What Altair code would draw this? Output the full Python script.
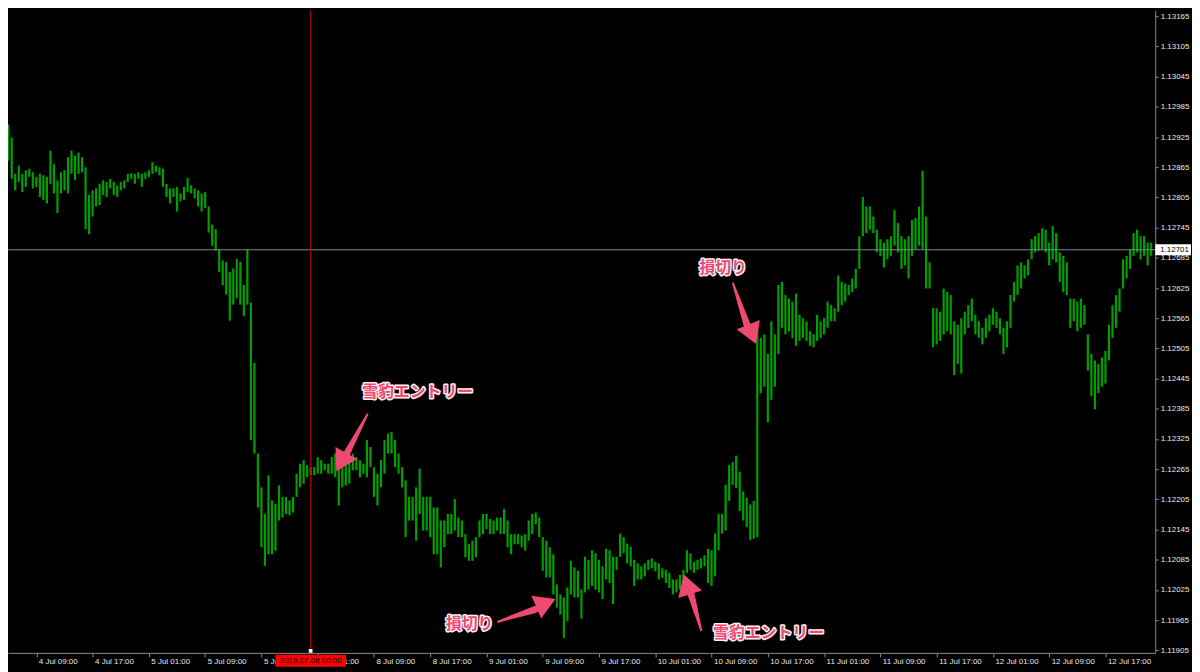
import json
import altair as alt
import pandas as pd

# ---------------- data (EURUSD, 30-minute bars) ----------------
high = [
    1.12950, 1.12924, 1.12852, 1.12868, 1.12852, 1.12859, 1.12862, 1.12855, 1.12846, 1.12852,
    1.12849, 1.12846, 1.12898, 1.12872, 1.12839, 1.12855, 1.12859, 1.12885, 1.12898, 1.12888,
    1.12894, 1.12885, 1.12865, 1.12810, 1.12819, 1.12823, 1.12832, 1.12839, 1.12836, 1.12842,
    1.12836, 1.12829, 1.12836, 1.12839, 1.12852, 1.12853, 1.12852, 1.12855, 1.12852, 1.12855,
    1.12859, 1.12875, 1.12868, 1.12865, 1.12862, 1.12832, 1.12823, 1.12823, 1.12826, 1.12813,
    1.12826, 1.12844, 1.12829, 1.12823, 1.12819, 1.12813, 1.12816, 1.12787, 1.12751, 1.12742,
    1.12702, 1.12680, 1.12677, 1.12657, 1.12664, 1.12683, 1.12677, 1.12631, 1.12702,
    1.12596, 1.12476, 1.12296, 1.12229, 1.12176, 1.12253, 1.12203, 1.12196, 1.12233, 1.12210,
    1.12210, 1.12203, 1.12210, 1.12256, 1.12276, 1.12283, 1.12273, 1.12269, 1.12269, 1.12289,
    1.12283, 1.12276, 1.12276, 1.12289, 1.12296, 1.12269, 1.12269, 1.12276, 1.12283, 1.12296,
    1.12289, 1.12283, 1.12276, 1.12323, 1.12309, 1.12269, 1.12256, 1.12283, 1.12323, 1.12336,
    1.12339, 1.12323, 1.12296, 1.12269, 1.12243, 1.12210, 1.12210, 1.12229, 1.12266, 1.12210,
    1.12210, 1.12210, 1.12189, 1.12189, 1.12163, 1.12163, 1.12176, 1.12176, 1.12206, 1.12169,
    1.12163, 1.12136, 1.12116, 1.12123, 1.12130, 1.12163, 1.12176, 1.12176, 1.12166, 1.12163,
    1.12169, 1.12169, 1.12186, 1.12163, 1.12136, 1.12136, 1.12136, 1.12133, 1.12136, 1.12163,
    1.12176, 1.12179, 1.12169, 1.12130, 1.12123, 1.12110, 1.12096, 1.12036, 1.12016, 1.12010,
    1.12030, 1.12083, 1.12070, 1.12063,
    1.12026, 1.12091, 1.12085, 1.12104, 1.12098, 1.12085, 1.12072, 1.12107, 1.12104, 1.12091,
    1.12091, 1.12137, 1.12130, 1.12117, 1.12111, 1.12085, 1.12078, 1.12072, 1.12078, 1.12085,
    1.12088, 1.12081, 1.12078, 1.12068, 1.12065, 1.12059, 1.12046, 1.12046, 1.12055, 1.12065,
    1.12104, 1.12098, 1.12081, 1.12085, 1.12088, 1.12094, 1.12107, 1.12104, 1.12137, 1.12176,
    1.12176, 1.12234, 1.12273, 1.12279, 1.12292, 1.12260, 1.12221, 1.12208, 1.12195, 1.12202,
    1.12552, 1.12526, 1.12533, 1.12494, 1.12559, 1.12533, 1.12631, 1.12637, 1.12611, 1.12604,
    1.12598, 1.12614, 1.12572, 1.12565, 1.12559, 1.12539, 1.12533, 1.12572, 1.12559, 1.12565,
    1.12598, 1.12591, 1.12585, 1.12650, 1.12637, 1.12634, 1.12631, 1.12644, 1.12663, 1.12728,
    1.12806, 1.12787, 1.12787, 1.12767, 1.12741, 1.12722, 1.12715, 1.12722, 1.12728, 1.12780,
    1.12754, 1.12728, 1.12722, 1.12728, 1.12760, 1.12764, 1.12787, 1.12858, 1.12767, 1.12676,
    1.12585, 1.12585, 1.12578, 1.12624, 1.12617, 1.12611, 1.12559, 1.12552, 1.12565, 1.12578,
    1.12591, 1.12604, 1.12572, 1.12559, 1.12546, 1.12565, 1.12572, 1.12585, 1.12578, 1.12565,
    1.12546, 1.12559, 1.12611, 1.12637, 1.12670, 1.12676, 1.12670, 1.12682, 1.12722, 1.12728,
    1.12734, 1.12744, 1.12741, 1.12715, 1.12748, 1.12734, 1.12696, 1.12689, 1.12676, 1.12604,
    1.12604, 1.12598, 1.12604, 1.12591, 1.12533, 1.12494, 1.12481, 1.12474, 1.12487, 1.12500,
    1.12552, 1.12591, 1.12611, 1.12624, 1.12682, 1.12689, 1.12702, 1.12734, 1.12741, 1.12728,
    1.12728, 1.12715, 1.12715,
]
low = [
    1.12878, 1.12842, 1.12819, 1.12836, 1.12816, 1.12826, 1.12846, 1.12823, 1.12826, 1.12806,
    1.12800, 1.12793, 1.12832, 1.12813, 1.12774, 1.12813, 1.12819, 1.12813, 1.12852, 1.12839,
    1.12852, 1.12855, 1.12742, 1.12732, 1.12767, 1.12787, 1.12790, 1.12810, 1.12806, 1.12823,
    1.12810, 1.12806, 1.12819, 1.12823, 1.12836, 1.12842, 1.12832, 1.12842, 1.12826, 1.12842,
    1.12846, 1.12852, 1.12855, 1.12849, 1.12826, 1.12806, 1.12793, 1.12806, 1.12777, 1.12797,
    1.12800, 1.12816, 1.12813, 1.12803, 1.12787, 1.12777, 1.12784, 1.12735, 1.12709, 1.12699,
    1.12657, 1.12631, 1.12612, 1.12560, 1.12592, 1.12605, 1.12592, 1.12569, 1.12592,
    1.12323, 1.12296, 1.12189, 1.12110, 1.12073, 1.12096, 1.12096, 1.12103, 1.12163, 1.12169,
    1.12176, 1.12173, 1.12179, 1.12210, 1.12229, 1.12236, 1.12249, 1.12253, 1.12253, 1.12256,
    1.12256, 1.12263, 1.12256, 1.12256, 1.12249, 1.12193, 1.12229, 1.12233, 1.12236, 1.12263,
    1.12263, 1.12249, 1.12256, 1.12249, 1.12269, 1.12210, 1.12193, 1.12229, 1.12256, 1.12296,
    1.12296, 1.12269, 1.12256, 1.12229, 1.12130, 1.12163, 1.12163, 1.12123, 1.12176, 1.12143,
    1.12143, 1.12130, 1.12096, 1.12096, 1.12070, 1.12110, 1.12136, 1.12136, 1.12143, 1.12130,
    1.12130, 1.12090, 1.12083, 1.12083, 1.12090, 1.12130, 1.12136, 1.12146, 1.12136, 1.12136,
    1.12143, 1.12136, 1.12136, 1.12110, 1.12096, 1.12116, 1.12116, 1.12110, 1.12103, 1.12123,
    1.12136, 1.12156, 1.12130, 1.12063, 1.12050, 1.12050, 1.12016, 1.11990, 1.11976, 1.11930,
    1.11963, 1.12016, 1.12010, 1.12010,
    1.11968, 1.12020, 1.12026, 1.12033, 1.12026, 1.12020, 1.12007, 1.12046, 1.12039, 1.11997,
    1.12065, 1.12091, 1.12098, 1.12078, 1.12072, 1.12033, 1.12046, 1.12046, 1.12052, 1.12065,
    1.12068, 1.12062, 1.12046, 1.12049, 1.12039, 1.12029, 1.12016, 1.12020, 1.12026, 1.12039,
    1.12059, 1.12065, 1.12059, 1.12065, 1.12068, 1.12072, 1.12039, 1.12033, 1.12052, 1.12104,
    1.12137, 1.12143, 1.12202, 1.12234, 1.12228, 1.12182, 1.12163, 1.12150, 1.12124, 1.12127,
    1.12130, 1.12416, 1.12429, 1.12358, 1.12403, 1.12429, 1.12494, 1.12546, 1.12533, 1.12539,
    1.12526, 1.12510, 1.12520, 1.12526, 1.12520, 1.12510, 1.12507, 1.12520, 1.12526, 1.12533,
    1.12546, 1.12559, 1.12559, 1.12578, 1.12591, 1.12598, 1.12611, 1.12617, 1.12624, 1.12663,
    1.12728, 1.12734, 1.12741, 1.12734, 1.12696, 1.12689, 1.12666, 1.12682, 1.12689, 1.12709,
    1.12696, 1.12663, 1.12670, 1.12644, 1.12689, 1.12702, 1.12709, 1.12702, 1.12624, 1.12624,
    1.12507, 1.12513, 1.12520, 1.12533, 1.12539, 1.12533, 1.12452, 1.12474, 1.12455, 1.12533,
    1.12546, 1.12559, 1.12533, 1.12526, 1.12513, 1.12526, 1.12539, 1.12552, 1.12546, 1.12533,
    1.12494, 1.12507, 1.12546, 1.12598, 1.12611, 1.12624, 1.12644, 1.12650, 1.12682, 1.12696,
    1.12699, 1.12702, 1.12696, 1.12670, 1.12682, 1.12676, 1.12637, 1.12617, 1.12611, 1.12546,
    1.12559, 1.12539, 1.12546, 1.12552, 1.12461, 1.12410, 1.12384, 1.12416, 1.12429, 1.12435,
    1.12481, 1.12526, 1.12546, 1.12578, 1.12624, 1.12644, 1.12663, 1.12689, 1.12696, 1.12682,
    1.12689, 1.12670, 1.12689,
]

x_tick_bars = [8, 24, 40, 56, 72, 88, 104, 120, 136, 152,
               168, 184, 200, 216, 232, 248, 264, 280, 296, 312]
x_tick_labels = ["4 Jul 09:00", "4 Jul 17:00", "5 Jul 01:00", "5 Jul 09:00", "5 Jul 17:00",
                 "8 Jul 01:00", "8 Jul 09:00", "8 Jul 17:00", "9 Jul 01:00", "9 Jul 09:00",
                 "9 Jul 17:00", "10 Jul 01:00", "10 Jul 09:00", "10 Jul 17:00", "11 Jul 01:00",
                 "11 Jul 09:00", "11 Jul 17:00", "12 Jul 01:00", "12 Jul 09:00", "12 Jul 17:00"]
price_ticks = [1.11905, 1.11965, 1.12025, 1.12085, 1.12145, 1.12205, 1.12265, 1.12325,
               1.12385, 1.12445, 1.12505, 1.12565, 1.12625, 1.12685, 1.12745, 1.12805,
               1.12865, 1.12925, 1.12985, 1.13045, 1.13105, 1.13165]
bid_price = 1.12701
marker_bar = 86
marker_label = "2019.07.08 00:00"

note_text = ["雪豹エントリー", "損切り", "損切り", "雪豹エントリー"]
note_bar = [116.4, 203.3, 131.2, 216.2]
note_price = [1.12418, 1.12664, 1.11958, 1.11939]

arrow_tail_bar = [102.13, 206.11, 139.27, 197.05]
arrow_tail_price = [1.12374, 1.12634, 1.11962, 1.11945]
arrow_base_bar = [96.02, 210.04, 149.73, 194.19]
arrow_base_price = [1.12293, 1.12553, 1.11986, 1.12016]
arrow_tip_bar = [93.27, 212.65, 155.62, 192.08]
arrow_tip_price = [1.12261, 1.12514, 1.12007, 1.12056]
arrow_angle = [209, 158, 67, 342]

# ---------------- styling ----------------
W, H = 1155, 647
BG = "#000000"
GREEN = "#00a000"
AXIS = "#8a8a8a"
LABEL = "#e8e8e8"
PINK = "#ee4a71"
FONT = "Liberation Sans"
FS = 8
JP = "Noto Sans CJK JP"

n = min(len(high), len(low))
bars_df = pd.DataFrame({"i": list(range(n)), "p": low[:n], "p2": high[:n]})

label_expr = f"{json.dumps(x_tick_labels)}[indexof({json.dumps(x_tick_bars)}, datum.value)]"

x_enc = alt.X(
    "i:Q",
    scale=alt.Scale(domain=[-0.06, 326.16], nice=False, zero=False),
    axis=alt.Axis(title=None, values=x_tick_bars, labelExpr=label_expr, labelAlign="left",
                  labelBaseline="top", labelOffset=2, labelPadding=1, tickSize=4,
                  tickColor=AXIS, domainColor=AXIS, labelColor=LABEL, labelFont=FONT,
                  labelFontSize=FS, grid=False, labelOverlap=False, labelFlush=False,
                  labelBound=False),
)
y_enc = alt.Y(
    "p:Q",
    scale=alt.Scale(domain=[1.11900, 1.13177], nice=False, zero=False),
    axis=alt.Axis(title=None, orient="right", values=price_ticks, format=".5f", tickSize=3,
                  labelPadding=2, tickColor=AXIS, domainColor=AXIS, labelColor=LABEL,
                  labelFont=FONT, labelFontSize=FS, grid=False, labelOverlap=False,
                  labelFlush=False, labelBound=False),
)

bars = alt.Chart(bars_df).mark_rule(color=GREEN, strokeWidth=2.2).encode(
    x=x_enc, y=y_enc, y2="p2:Q")

bid_df = pd.DataFrame({"p": [bid_price], "t": [f"{bid_price:.5f}"]})
bid_line = alt.Chart(bid_df).mark_rule(color="#778899", strokeWidth=1.2).encode(y=y_enc)

vline_df = pd.DataFrame({"i": [marker_bar], "t": [marker_label]})
vline = alt.Chart(vline_df).mark_rule(color="#c00000", strokeWidth=1).encode(x=x_enc)

# arrows: tapered shaft (trail) + triangular head
shaft_rows = []
for k in range(len(arrow_tail_bar)):
    shaft_rows.append({"id": k, "o": 0, "i": arrow_tail_bar[k], "p": arrow_tail_price[k], "w": 2.0})
    shaft_rows.append({"id": k, "o": 1, "i": arrow_base_bar[k], "p": arrow_base_price[k], "w": 7.0})
shaft_df = pd.DataFrame(shaft_rows)
shafts = alt.Chart(shaft_df).mark_trail(color=PINK).encode(
    x=x_enc, y=y_enc, detail="id:N", order="o:Q",
    size=alt.Size("w:Q", scale=None, legend=None))

head_df = pd.DataFrame({"i": arrow_tip_bar, "p": arrow_tip_price, "a": arrow_angle})
heads = alt.Chart(head_df).mark_point(
    shape="M0,0L1.25,2.1L-1.25,2.1Z", size=400, filled=True, color=PINK, opacity=1,
    strokeWidth=0).encode(x=x_enc, y=y_enc, angle=alt.Angle("a:Q", scale=None))

note_df = pd.DataFrame({"i": note_bar, "p": note_price, "t": note_text})
note_glow = alt.Chart(note_df).mark_text(
    font=JP, fontWeight="bold", fontSize=16, color="#fff0f4", stroke="#fff0f4",
    strokeWidth=3, strokeJoin="round", align="center", baseline="middle").encode(
    x=x_enc, y=y_enc, text="t:N")
note_fill = alt.Chart(note_df).mark_text(
    font=JP, fontWeight="bold", fontSize=16, color=PINK, align="center",
    baseline="middle").encode(x=x_enc, y=y_enc, text="t:N")

# time-scale label of the vertical line
date_box = alt.Chart(vline_df).mark_point(
    shape="M-1,-0.17H1V0.17H-1Z", size=71 * 71, filled=True, color="#ff0000", opacity=1,
    strokeWidth=0).encode(x=x_enc, y=alt.value(H + 8))
date_text = alt.Chart(vline_df).mark_text(
    font=FONT, fontSize=FS, color="#000000", align="center", baseline="middle").encode(
    x=x_enc, y=alt.value(H + 8), text="t:N")
date_mark = alt.Chart(vline_df).mark_square(size=14, color="#ffffff", opacity=1).encode(
    x=x_enc, y=alt.value(H - 2))

# current price box on the price scale
bid_box = alt.Chart(bid_df).mark_rule(color="#ffffff", strokeWidth=11).encode(
    x=alt.value(W), x2=alt.value(W + 36), y=y_enc)
bid_text = alt.Chart(bid_df).mark_text(
    font=FONT, fontSize=FS, color="#000000", align="left", baseline="middle").encode(
    x=alt.value(W + 5), y=y_enc, text="t:N")

chart = alt.layer(
    bars, bid_line, vline, shafts, heads, note_glow, note_fill,
    date_box, date_text, date_mark, bid_box, bid_text,
).properties(
    width=W, height=H,
    autosize=alt.AutoSizeParams(type="none"),
    padding={"left": 0, "top": 0, "right": 37, "bottom": 17},
).configure(background=BG).configure_view(strokeWidth=0, fill=BG)

chart.save("out.html", embed_options={"renderer": "svg", "actions": False})
